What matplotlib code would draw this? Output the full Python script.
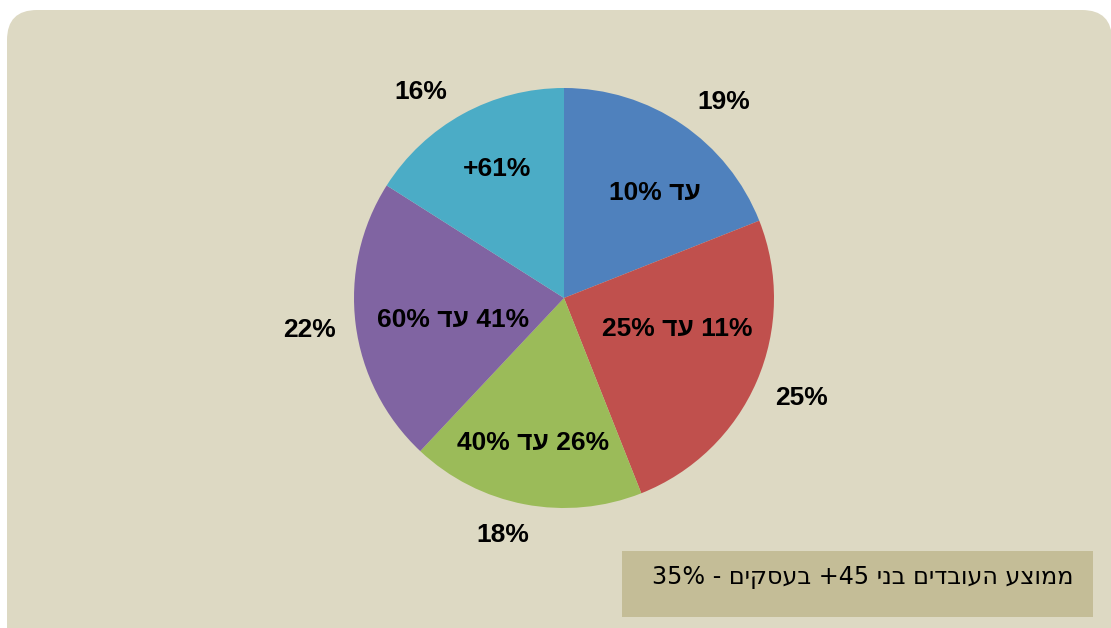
import matplotlib
matplotlib.use("Agg")
import matplotlib.pyplot as plt
from matplotlib.patches import FancyBboxPatch, Rectangle

# ---- data ----
shares = [19, 25, 18, 22, 16]
share_labels = ["19%", "25%", "18%", "22%", "16%"]
# Hebrew category labels, written in visual (left-to-right) order
categories = ["10% דע", "25% דע 11%", "40% דע 26%", "60% דע 41%", "+61%"]
colors = ["#4F81BD", "#C0504D", "#9BBB59", "#8064A2", "#4BACC6"]
note_text = "35% - םיקסעב +45 ינב םידבועה עצוממ"

# ---- layout (image pixel coordinates, y downward) ----
W, H = 1111, 628
center_px = (564, 298)
radius_px = 210
inner_pos = [(655, 193), (677, 329), (533, 443), (453, 320), (497, 169)]
outer_pos = [(724, 102), (802, 398), (503, 535), (310, 330), (421, 92)]

fig = plt.figure(figsize=(W / 100, H / 100), dpi=100)
fig.patch.set_facecolor("white")
ax = fig.add_axes([0, 0, 1, 1])

def Y(y):
    return H - y

# background rounded panel (left 7, right 1112, top 10, extends below)
R = 30
bg = FancyBboxPatch((7 + R, Y(680) + R), (1112 - 7) - 2 * R, (680 - 10) - 2 * R,
                    boxstyle="round,pad=%d" % R, facecolor="#DDD9C3",
                    edgecolor="none", zorder=0)
ax.add_patch(bg)

ax.pie(shares, colors=colors, startangle=90, counterclock=False,
       center=(center_px[0], Y(center_px[1])), radius=radius_px,
       wedgeprops=dict(linewidth=0), frame=True)
ax.set_xlim(0, W)
ax.set_ylim(0, H)
ax.set_aspect("equal")
ax.axis("off")

fam = ["Liberation Sans", "DejaVu Sans"]
for txt, (x, y) in zip(categories, inner_pos):
    ax.text(x, Y(y), txt, ha="center", va="center", fontsize=19,
            fontweight="bold", family=fam, color="black", zorder=5)
for txt, (x, y) in zip(share_labels, outer_pos):
    ax.text(x, Y(y), txt, ha="center", va="center", fontsize=19,
            fontweight="bold", family=fam, color="black", zorder=5)

# note box
ax.add_patch(Rectangle((622, Y(617)), 1093 - 622, 617 - 551,
                       facecolor="#C4BD97", edgecolor="none", zorder=3))
ax.text(652, Y(577), note_text, ha="left", va="center", fontsize=17.2,
        family=["DejaVu Sans"], color="black", zorder=5)

fig.savefig("out.png", dpi=100)
